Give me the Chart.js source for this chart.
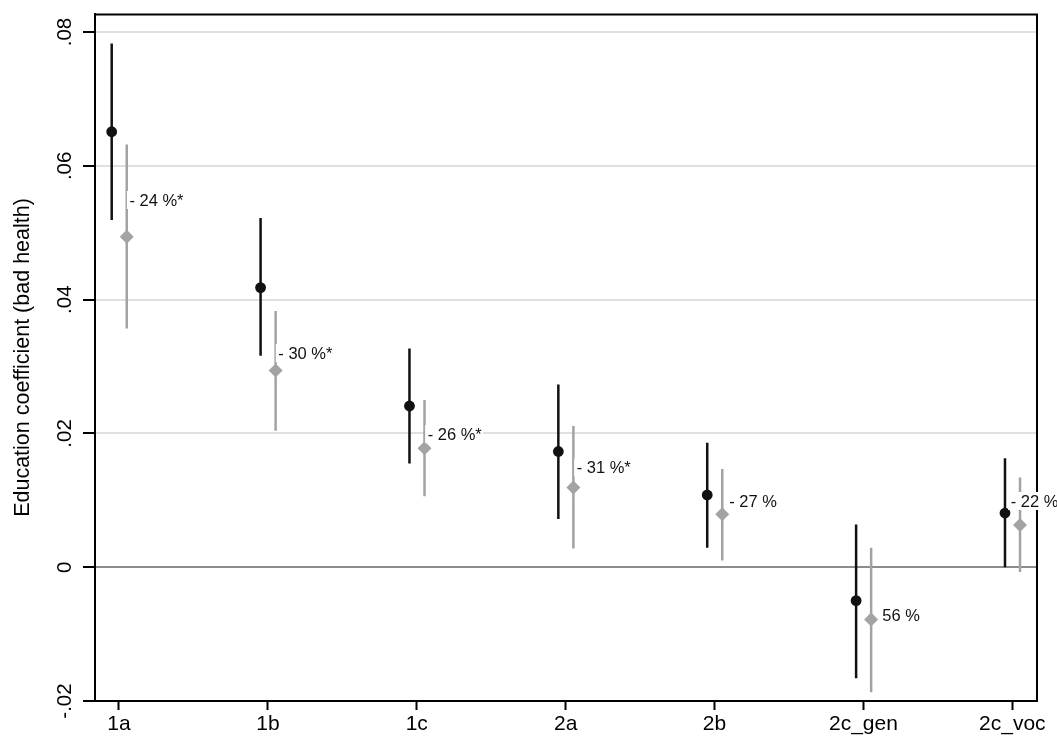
<!DOCTYPE html>
<html lang="en">
  <head>
    <meta charset="UTF-8" />
    <title>Education coefficient</title>
    <style>
      html,
      body {
        margin: 0;
        padding: 0;
        background: #fff;
      }
      .plot {
        width: 1057px;
        height: 736px;
      }
    </style>
  </head>
  <body>
    <div class="plot">
      <canvas id="coefChart"></canvas>
    </div>

    <script src="https://cdn.jsdelivr.net/npm/chart.js@4.4.1/dist/chart.umd.min.js"></script>
    <script>
      // model specifications
      const categories = ["1a", "1b", "1c", "2a", "2b", "2c_gen", "2c_voc"];

      // baseline estimates (black) with confidence bounds
      const baseCoef = [0.0651, 0.0418, 0.0241, 0.0173, 0.0108, -0.005, 0.0081];
      const baseLo = [0.0519, 0.0316, 0.0155, 0.0072, 0.0029, -0.0166, 0.0];
      const baseHi = [0.0783, 0.0522, 0.0327, 0.0273, 0.0186, 0.0064, 0.0163];

      // adjusted estimates (grey) with confidence bounds
      const adjCoef = [0.0494, 0.0294, 0.0178, 0.0119, 0.0079, -0.0078, 0.0063];
      const adjLo = [0.0357, 0.0204, 0.0106, 0.0028, 0.001, -0.0187, -0.0007];
      const adjHi = [0.0632, 0.0383, 0.025, 0.0211, 0.0147, 0.0029, 0.0134];

      // change between the two estimates, placed like text() in stata
      const changeLabels = ["- 24 %*", "- 30 %*", "- 26 %*", "- 31 %*", "- 27 %", "56 %", "- 22 %"];
      const labelY = [0.0549, 0.032, 0.0199, 0.0149, 0.0099, -0.0072, 0.0099];
      const labelDx = [0.07, 0.07, 0.073, 0.074, 0.099, 0.127, -0.011];

      const yTicks = [-0.02, 0, 0.02, 0.04, 0.06, 0.08];
      const yTitle = "Education coefficient (bad health)";

      const FONT = "'Liberation Sans', Arial, Helvetica, sans-serif";
      const BLACK = "#111111";
      const GREY = "#a3a3a3";
      const OFF_BASE = -0.049;
      const OFF_ADJ = 0.052;

      // vertical segments, separated by gaps
      function spikes(lo, hi, off) {
        const pts = [];
        lo.forEach((v, i) => {
          pts.push({ x: i + off, y: v });
          pts.push({ x: i + off, y: hi[i] });
          pts.push({ x: i + off, y: null });
        });
        return pts;
      }

      function points(vals, off) {
        return vals.map((v, i) => ({ x: i + off, y: v }));
      }

      function stataNum(v) {
        if (Math.abs(v) < 1e-9) return "0";
        return v.toFixed(2).replace("0.", ".");
      }

      // y tick labels (rotated), axis title, frame and change labels
      const decorPlugin = {
        id: "decor",
        beforeDatasetsDraw(chart) {
          const { ctx, chartArea } = chart;
          ctx.save();
          ctx.strokeStyle = "#000";
          ctx.lineWidth = 2;
          ctx.beginPath();
          ctx.moveTo(chartArea.left, chartArea.top + 0.5);
          ctx.lineTo(chartArea.right, chartArea.top + 0.5);
          ctx.lineTo(chartArea.right, chartArea.bottom);
          ctx.stroke();
          ctx.restore();
        },
        afterDatasetsDraw(chart) {
          const { ctx } = chart;
          const xs = chart.scales.x;
          const ys = chart.scales.y;
          ctx.save();
          ctx.font = "16.5px " + FONT;
          ctx.textBaseline = "middle";
          ctx.textAlign = "left";
          changeLabels.forEach((t, i) => {
            const px = xs.getPixelForValue(i + labelDx[i]);
            const py = ys.getPixelForValue(labelY[i]);
            const w = ctx.measureText(t).width;
            ctx.fillStyle = "#fff";
            ctx.fillRect(px - 2.5, py - 9, w + 3.5, 18);
            ctx.fillStyle = "#111";
            ctx.fillText(t, px, py + 1);
          });
          ctx.restore();
        },
        afterDraw(chart) {
          const { ctx, chartArea } = chart;
          const ys = chart.scales.y;
          ctx.save();
          ctx.fillStyle = "#000";
          ctx.textAlign = "center";
          ctx.textBaseline = "middle";
          ctx.font = "20.5px " + FONT;
          ys.ticks.forEach((t) => {
            const py = ys.getPixelForValue(t.value);
            ctx.save();
            ctx.translate(65, py);
            ctx.rotate(-Math.PI / 2);
            ctx.fillText(stataNum(t.value), 0, 0);
            ctx.restore();
          });
          ctx.font = "21.5px " + FONT;
          ctx.translate(23, (chartArea.top + chartArea.bottom) / 2);
          ctx.rotate(-Math.PI / 2);
          ctx.fillText(yTitle, 0, 0);
          ctx.restore();
        },
      };

      const coefChart = document.getElementById("coefChart");

      new Chart(coefChart, {
        type: "scatter",
        data: {
          datasets: [
            {
              label: "baseline",
              data: points(baseCoef, OFF_BASE),
              pointStyle: "circle",
              pointRadius: 5.4,
              pointHoverRadius: 5.4,
              backgroundColor: BLACK,
              borderColor: BLACK,
              borderWidth: 0,
            },
            {
              label: "adjusted",
              data: points(adjCoef, OFF_ADJ),
              pointStyle: "rectRot",
              pointRadius: 7,
              pointHoverRadius: 7,
              backgroundColor: GREY,
              borderColor: GREY,
              borderWidth: 0,
            },
            {
              type: "line",
              label: "baseline ci",
              data: spikes(baseLo, baseHi, OFF_BASE),
              borderColor: BLACK,
              borderWidth: 2.5,
              pointRadius: 0,
              spanGaps: false,
            },
            {
              type: "line",
              label: "adjusted ci",
              data: spikes(adjLo, adjHi, OFF_ADJ),
              borderColor: GREY,
              borderWidth: 2.5,
              pointRadius: 0,
              spanGaps: false,
            },
          ],
        },
        options: {
          responsive: true,
          maintainAspectRatio: false,
          animation: false,
          events: [],
          layout: {
            padding: { top: 14, right: 20, left: 0, bottom: 0 },
          },
          plugins: {
            legend: { display: false },
            tooltip: { enabled: false },
          },
          scales: {
            x: {
              type: "linear",
              min: -0.1612,
              max: 6.166,
              afterBuildTicks: (scale) => {
                scale.ticks = categories.map((c, i) => ({ value: i }));
              },
              afterFit: (scale) => {
                scale.height = 35;
              },
              ticks: {
                autoSkip: false,
                maxRotation: 0,
                padding: 2,
                color: "#000",
                font: { family: FONT, size: 21 },
                callback: (v) => categories[v],
              },
              grid: {
                drawOnChartArea: false,
                tickLength: 9,
                tickColor: "#000",
                tickWidth: 2,
              },
              border: { color: "#000", width: 2 },
            },
            y: {
              min: -0.02,
              max: 0.0827,
              afterBuildTicks: (scale) => {
                scale.ticks = yTicks.map((v) => ({ value: v }));
              },
              afterFit: (scale) => {
                scale.width = 95;
              },
              ticks: { display: false },
              grid: {
                color: (c) => (c.tick && Math.abs(c.tick.value) < 1e-9 ? "#8c8c8c" : "#e0e0e0"),
                lineWidth: 2,
                tickLength: 12,
                tickColor: "#000",
                tickWidth: 2,
              },
              border: { color: "#000", width: 2 },
            },
          },
        },
        plugins: [decorPlugin],
      });
    </script>
  </body>
</html>
